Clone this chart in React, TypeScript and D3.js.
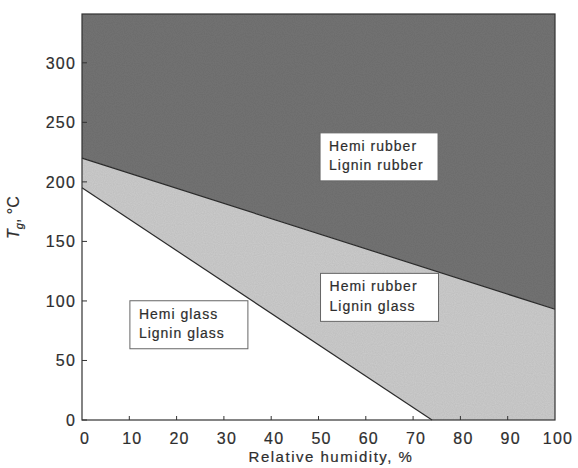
import React from "react";
import * as d3 from "d3";

const xTicks = [0, 10, 20, 30, 40, 50, 60, 70, 80, 90, 100];
const yTicks = [0, 50, 100, 150, 200, 250, 300];
const upperRH = [0, 100];
const upperTg = [220, 93];
const lowerRH = [0, 74];
const lowerTg = [195, 0];
const regionLabels = [
  { lines: ["Hemi rubber", "Lignin rubber"], rh: 62.8, tg: 221 },
  { lines: ["Hemi rubber", "Lignin glass"], rh: 62.9, tg: 103 },
  { lines: ["Hemi glass", "Lignin glass"], rh: 22.6, tg: 80 },
];

const W = 578;
const H = 468;
const FONT = "'Liberation Sans', Arial, Helvetica, sans-serif";
const INK = "#2e2e2e";

export default function App() {
  const x = d3.scaleLinear().domain([0, 100]).range([82, 555]);
  const y = d3.scaleLinear().domain([0, 341]).range([420, 14]);
  const [yMin, yMax] = y.domain();

  const line = d3
    .line<[number, number]>()
    .x((d) => x(d[0]))
    .y((d) => y(d[1]));

  const upper: [number, number][] = upperRH.map((v, i) => [v, upperTg[i]]);
  const lower: [number, number][] = lowerRH.map((v, i) => [v, lowerTg[i]]);

  const darkPoly: [number, number][] = [...upper, [100, yMax], [0, yMax]];
  const lightPoly: [number, number][] = [
    ...upper,
    [100, yMin],
    [lower[1][0], yMin],
    lower[0],
  ];

  const boxW = 118;
  const boxH = 48;

  const textStyle = { stroke: INK, strokeWidth: 0.2 } as const;

  return (
    <svg
      width={W}
      height={H}
      style={{ position: "absolute", left: 0, top: 0, background: "#fff" }}
      fontFamily={FONT}
    >
      <defs>
        <filter id="grain" x="0" y="0" width="100%" height="100%">
          <feTurbulence type="fractalNoise" baseFrequency="0.9" numOctaves="1" seed="3" result="n" />
          <feColorMatrix
            in="n"
            type="matrix"
            values="0 0 0 0 0.5  0 0 0 0 0.5  0 0 0 0 0.5  0 0 0 0.35 0"
            result="g"
          />
          <feComposite in="g" in2="SourceGraphic" operator="in" result="gc" />
          <feBlend in="SourceGraphic" in2="gc" mode="multiply" />
        </filter>
      </defs>
      <path d={line(darkPoly) + "Z"} fill="#747474" filter="url(#grain)" />
      <path d={line(lightPoly) + "Z"} fill="#cdcdcd" filter="url(#grain)" />
      <path d={line(upper) ?? ""} fill="none" stroke="#2a2a2a" strokeWidth={1.2} />
      <path d={line(lower) ?? ""} fill="none" stroke="#2a2a2a" strokeWidth={1.2} />

      {/* frame */}
      <rect
        x={x(0)}
        y={y(yMax)}
        width={x(100) - x(0)}
        height={y(yMin) - y(yMax)}
        fill="none"
        stroke="#333"
        strokeWidth={1.2}
      />

      {/* y ticks */}
      {yTicks.map((t) => (
        <g key={"y" + t}>
          <line x1={x(0)} x2={x(0) + 5} y1={y(t)} y2={y(t)} stroke="#333" strokeWidth={1} />
          <text
            x={x(0) - 6}
            y={y(t)}
            dy="0.36em"
            textAnchor="end"
            fontSize={16}
            letterSpacing={1.2}
            fill={INK}
            {...textStyle}
          >
            {t}
          </text>
        </g>
      ))}

      {/* x ticks */}
      {xTicks.map((t) => (
        <g key={"x" + t}>
          {t > 0 && t < 100 && (
            <line x1={x(t)} x2={x(t)} y1={y(0)} y2={y(0) - 4} stroke="#333" strokeWidth={1} />
          )}
          <text
            x={x(t) + 3}
            y={y(0) + 18}
            dy="0.36em"
            textAnchor="middle"
            fontSize={16}
            letterSpacing={1.2}
            fill={INK}
            {...textStyle}
          >
            {t}
          </text>
        </g>
      ))}

      <text
        x={331}
        y={457}
        dy="0.36em"
        textAnchor="middle"
        fontSize={15}
        letterSpacing={1.5}
        fill={INK}
        {...textStyle}
      >
        Relative humidity, %
      </text>

      <text
        transform={`translate(19, ${y(170)}) rotate(-90)`}
        textAnchor="middle"
        fontSize={16}
        fill={INK}
        {...textStyle}
      >
        <tspan fontStyle="italic">T</tspan>
        <tspan fontSize={11} dy={4} fontStyle="italic">g</tspan>
        <tspan dy={-4}>, °C</tspan>
      </text>

      {regionLabels.map((r, i) => {
        const cx = x(r.rh);
        const cy = y(r.tg);
        const left = cx - boxW / 2;
        const top = cy - boxH / 2;
        return (
          <g key={"lab" + i}>
            <rect
              x={left}
              y={top}
              width={boxW}
              height={boxH}
              fill="#fff"
              stroke="#666"
              strokeWidth={1}
            />
            {r.lines.map((l, j) => (
              <text
                key={j}
                x={left + 9}
                y={top + 18 + j * 19.5}
                fontSize={14}
                letterSpacing={1}
                fill={INK}
                {...textStyle}
              >
                {l}
              </text>
            ))}
          </g>
        );
      })}
    </svg>
  );
}
